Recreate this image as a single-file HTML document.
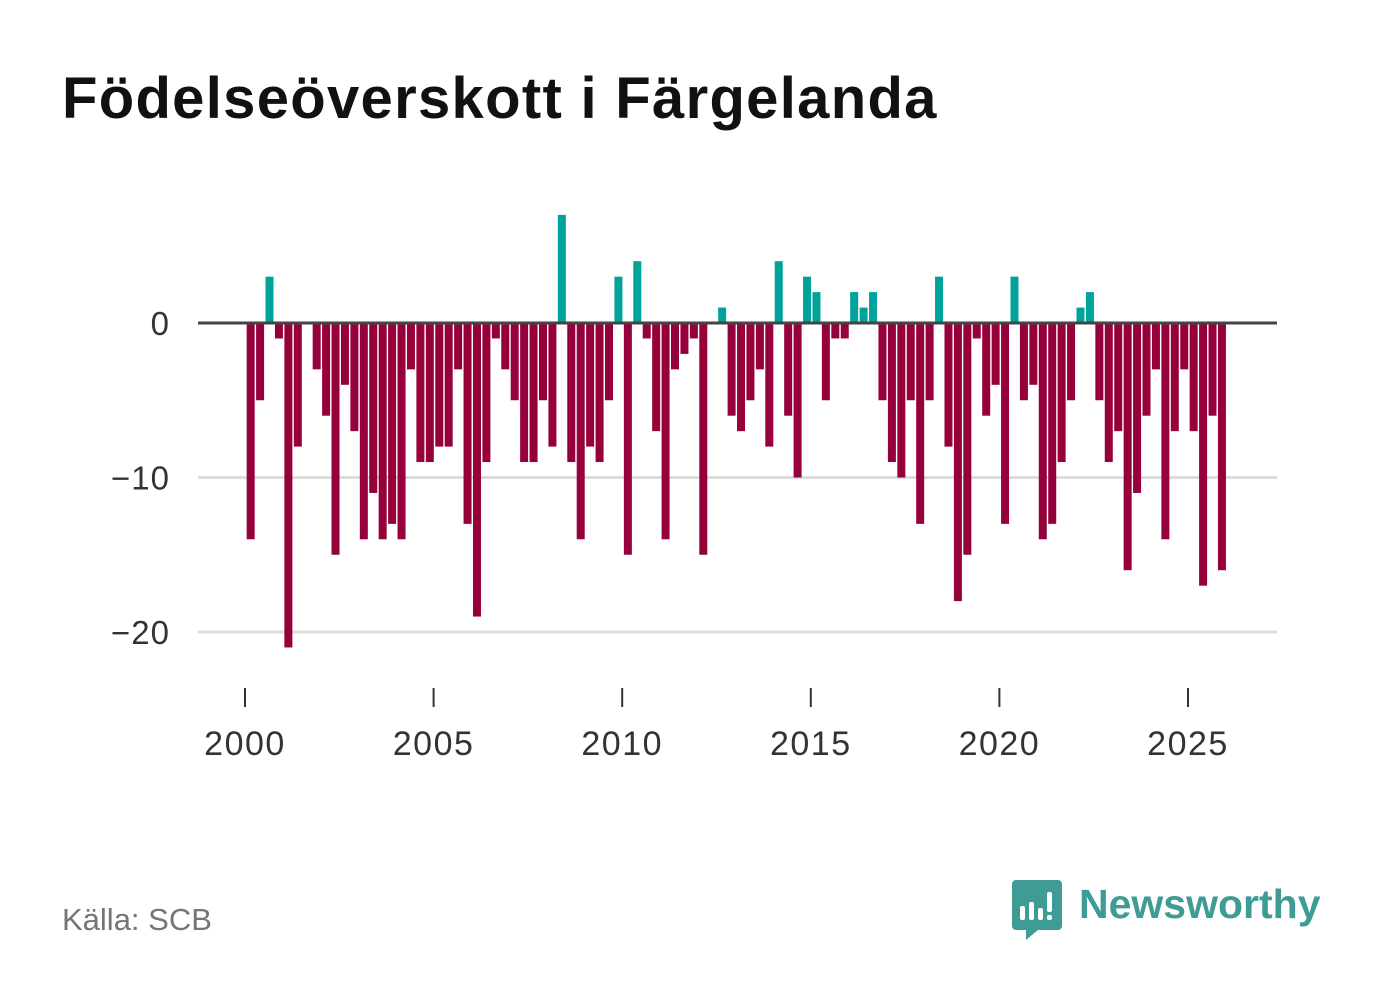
<!DOCTYPE html>
<html><head><meta charset="utf-8"><style>
body{margin:0;background:#fff;width:1382px;height:999px;overflow:hidden;font-family:"Liberation Sans",sans-serif}
svg{display:block}
</style></head><body>
<svg id="chart" width="1382" height="999" xmlns="http://www.w3.org/2000/svg">
<text x="62" y="118" font-size="58" font-weight="bold" letter-spacing="1.3" fill="#111" font-family="Liberation Sans, sans-serif">Födelseöverskott i Färgelanda</text>
<g id="grid"></g><g id="bars"></g><g id="axes"></g>
<text x="62" y="930" font-size="31" fill="#757575" font-family="Liberation Sans, sans-serif">Källa: SCB</text>
<g>
<path d="M1016 880 h42 a4 4 0 0 1 4 4 v42 a4 4 0 0 1 -4 4 h-20 l-12 10 v-10 h-10 a4 4 0 0 1 -4 -4 v-42 a4 4 0 0 1 4 -4z" fill="#3f9c95"/>
<rect x="1020" y="906" width="5" height="14" rx="2" fill="#fff"/><rect x="1029" y="902" width="5" height="18" rx="2" fill="#fff"/><rect x="1038" y="908" width="5" height="12" rx="2" fill="#fff"/><rect x="1047" y="892" width="5" height="20" rx="2" fill="#fff"/><rect x="1047" y="915" width="5" height="5" rx="2" fill="#fff"/>
<text x="1079" y="918" font-size="41" font-weight="bold" fill="#3f9c95" font-family="Liberation Sans, sans-serif">Newsworthy</text>
</g>
</svg>
<script>
const years=[2000,2005,2010,2015,2020,2025];
const yTicks=[0,-10,-20];
const values=[-14,-5,3,-1,-21,-8,0,-3,-6,-15,-4,-7,-14,-11,-14,-13,-14,-3,-9,-9,-8,-8,-3,-13,-19,-9,-1,-3,-5,-9,-9,-5,-8,7,-9,-14,-8,-9,-5,3,-15,4,-1,-7,-14,-3,-2,-1,-15,0,1,-6,-7,-5,-3,-8,4,-6,-10,3,2,-5,-1,-1,2,1,2,-5,-9,-10,-5,-13,-5,3,-8,-18,-15,-1,-6,-4,-13,3,-5,-4,-14,-13,-9,-5,1,2,-5,-9,-7,-16,-11,-6,-3,-14,-7,-3,-7,-17,-6,-16];
const startYear=2000;
const NS="http://www.w3.org/2000/svg";
function x(t){return 245+(t-2000)*37.72;}
function y(v){return 323-v*15.45;}
function mk(tag,attrs,parent){const e=document.createElementNS(NS,tag);for(const k in attrs)e.setAttribute(k,attrs[k]);parent.appendChild(e);return e;}
const grid=document.getElementById('grid'),bars=document.getElementById('bars'),axes=document.getElementById('axes');
yTicks.forEach(v=>{
  if(v!==0){const l=mk('line',{x1:198,x2:1277,y1:y(v),y2:y(v),stroke:'#dcdcdc','stroke-width':3},grid);
  
  }
  const t=mk('text',{x:170,y:y(v)+12,'text-anchor':'end','font-size':33,'letter-spacing':1,fill:'#333','font-family':'Liberation Sans, sans-serif'},axes);
  t.textContent=v<0?'\u2212'+Math.abs(v):String(v);
  
  
});
values.forEach((v,i)=>{
  const cx=x(startYear+(i+0.6)/4);
  const top=v>=0?y(v):y(0),h=Math.abs(y(v)-y(0));
  if(h===0)return;
  const r=mk('rect',{x:cx-4,y:top,width:8,height:h,fill:v>=0?'#00a39a':'#96003b'},bars);
  
  
});
const zl=mk('line',{x1:198,x2:1277,y1:y(0),y2:y(0),stroke:'#444','stroke-width':3},axes);


years.forEach(yr=>{
  const tk=mk('line',{x1:x(yr),x2:x(yr),y1:688,y2:707,stroke:'#333','stroke-width':2},axes);
  
  
  const t=mk('text',{x:x(yr),y:755,'text-anchor':'middle','font-size':34,'letter-spacing':1.5,fill:'#333','font-family':'Liberation Sans, sans-serif'},axes);
  t.textContent=yr;
  
  
});
</script>
</body></html>
